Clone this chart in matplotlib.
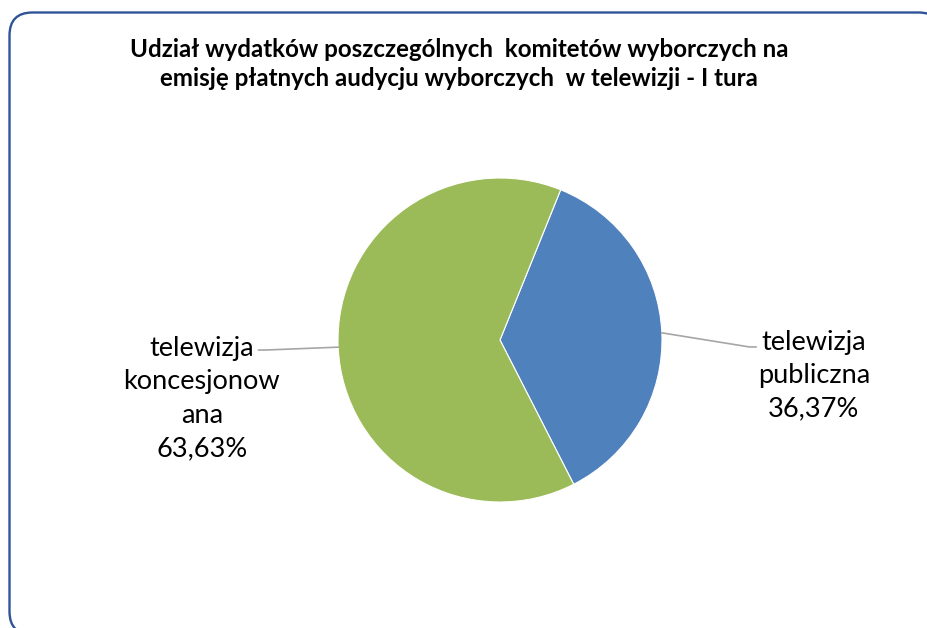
import numpy as np
import matplotlib
matplotlib.use('Agg')
import matplotlib.pyplot as plt
from matplotlib.patches import FancyBboxPatch

# dane
labels = ['telewizja\npubliczna', 'telewizja\nkoncesjonow\nana']
shares = [36.37, 63.63]
colors = ['#4F81BD', '#9BBB59']
title = ('Udział wydatków poszczególnych  komitetów wyborczych na\n'
         'emisję płatnych audycju wyborczych  w telewizji - I tura')

plt.rcParams['font.family'] = ['Lato', 'DejaVu Sans']

W, H = 928, 628
fig = plt.figure(figsize=(W / 100, H / 100), dpi=100)

# tło z ramką (w pikselach)
bg = fig.add_axes([0, 0, 1, 1])
bg.set_xlim(0, W)
bg.set_ylim(H, 0)
bg.axis('off')
bg.add_patch(FancyBboxPatch((9.5, 12.5), 932, 622,
                            boxstyle='round,pad=0,rounding_size=23',
                            fc='white', ec='#2F5496', lw=1.7))
bg.text(459, 64, title, ha='center', va='center', fontsize=17.4,
        fontweight='bold', linespacing=1.3, color='black')

# wykres kołowy
cx, cy, r = 500, 340, 162
ax = fig.add_axes([(cx - r) / W, (H - cy - r) / H, 2 * r / W, 2 * r / H])
wedges, _ = ax.pie(shares, colors=colors, startangle=68, counterclock=False,
                   radius=1, wedgeprops=dict(edgecolor='white', linewidth=0.8))
ax.set_xlim(-1, 1)
ax.set_ylim(-1, 1)
ax.set_aspect('equal')

text_pos = [(1.938, -0.22), (-1.84, -0.361)]
elbows = [(1.54, -0.043), (-1.45, -0.062)]
for w, lab, val, tp, el in zip(wedges, labels, shares, text_pos, elbows):
    ang = np.deg2rad((w.theta1 + w.theta2) / 2)
    x0, y0 = np.cos(ang), np.sin(ang)
    s = np.sign(x0)
    xs = [x0, el[0], el[0] + s * 0.04]
    ys = [y0, el[1], el[1]]
    ax.plot(xs, ys, color='#A6A6A6', lw=1.2, clip_on=False)
    txt = lab + '\n' + ('%.2f' % val).replace('.', ',') + '%'
    ax.text(tp[0], tp[1], txt, ha='center', va='center', fontsize=19.5,
            linespacing=1.42, color='black')

fig.savefig('out.png', dpi=100)
